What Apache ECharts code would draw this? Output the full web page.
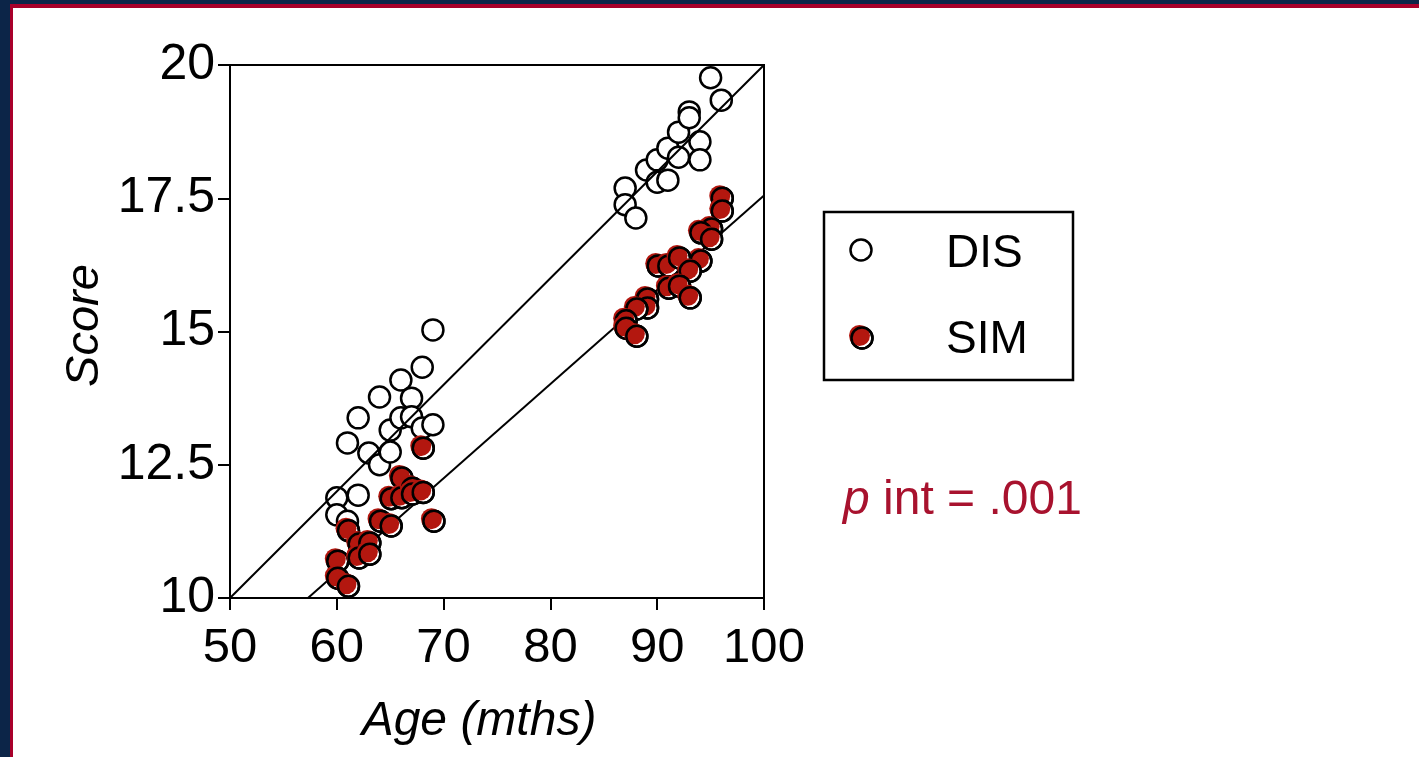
<!DOCTYPE html>
<html><head><meta charset="utf-8">
<script src="https://cdn.jsdelivr.net/npm/echarts@6/dist/echarts.min.js"></script>
<style>html,body{margin:0;padding:0;background:#fff;}#c{width:1419px;height:757px;}</style>
</head><body><div id="c"></div>
<script>
// ---- data ----
const xTickValues = [50, 60, 70, 80, 90, 100];
const yTickLabels = ['10', '12.5', '15', '17.5', '20'];

const disAge   = [60, 60, 61, 61, 62, 62, 63, 64, 64, 65, 65, 66, 66, 67, 67, 68, 68, 69, 69,
                  87, 87, 88, 89, 90, 90, 91, 91, 92, 92, 93, 93, 94, 94, 95, 96];
const disScore = [11.88, 11.56, 11.44, 12.91, 13.38, 11.93, 12.72, 13.77, 12.50, 12.74, 13.15, 13.38, 14.09, 13.75, 13.40, 14.33, 13.19, 13.25, 15.03,
                  17.69, 17.38, 17.13, 18.03, 18.22, 17.80, 18.44, 17.84, 18.74, 18.27, 19.12, 19.01, 18.56, 18.22, 19.76, 19.34];

const simAge   = [60, 60, 61, 61, 62, 62, 63, 63, 64, 65, 65, 66, 66, 67, 67, 68, 68, 69,
                  96, 96, 95, 94, 95, 94, 90, 91, 92, 93, 91, 92, 93, 89, 89, 88, 87, 87, 88];
const simScore = [10.71, 10.39, 10.24, 11.28, 11.03, 10.77, 11.05, 10.84, 11.46, 11.37, 11.88, 12.27, 11.90, 12.08, 11.97, 12.00, 12.83, 11.46,
                  17.52, 17.28, 16.94, 16.87, 16.75, 16.34, 16.25, 16.25, 16.40, 16.15, 15.83, 15.87, 15.65, 15.63, 15.46, 15.44, 15.22, 15.08, 14.93];

const disFitAge = [50, 100];
const disFitScore = [10, 20];
const simFitAge = [57.3, 100];
const simFitScore = [10, 17.55];

const seriesNames = ['DIS', 'SIM'];
const pText = '.001';

// ---- styles ----
const RED = '#b3170f';
const FONT = '"Liberation Sans", Arial, sans-serif';
const R = 10.5;

const zip = (a, b) => a.map((v, i) => [v, b[i]]);

function disItem(params, api) {
  const p = api.coord([api.value(0), api.value(1)]);
  return { type: 'circle', shape: { cx: p[0], cy: p[1], r: R },
           style: { fill: '#fff', stroke: '#000', lineWidth: 2.5 } };
}
function simItem(params, api) {
  const p = api.coord([api.value(0), api.value(1)]);
  return { type: 'group', children: [
    { type: 'circle', shape: { cx: p[0] + 1, cy: p[1] + 1, r: R }, style: { fill: '#fff', stroke: '#000', lineWidth: 2.5 } },
    { type: 'circle', shape: { cx: p[0] - 1.5, cy: p[1] - 1.5, r: R }, style: { fill: RED } },
    { type: 'circle', shape: { cx: p[0] + 1, cy: p[1] + 1, r: R }, style: { fill: 'none', stroke: '#000', lineWidth: 2.5 } }
  ]};
}

const chart = echarts.init(document.getElementById('c'), null, { renderer: 'canvas' });
chart.setOption({
  backgroundColor: '#fff',
  animation: false,
  grid: { left: 230, top: 65, width: 534, height: 533, show: true, borderColor: '#000', borderWidth: 2, backgroundColor: 'transparent' },
  xAxis: {
    type: 'value', min: xTickValues[0], max: xTickValues[xTickValues.length - 1], interval: 10,
    name: 'Age (mths)', nameLocation: 'middle', nameGap: 100,
    nameTextStyle: { fontFamily: FONT, fontSize: 48, fontStyle: 'italic', color: '#000', padding: [0, 36, 0, 0] },
    axisLine: { lineStyle: { color: '#000', width: 2 } },
    axisTick: { show: true, length: 12, lineStyle: { color: '#000', width: 2 } },
    axisLabel: { fontFamily: FONT, fontSize: 49, color: '#000', margin: 26 },
    splitLine: { show: false }
  },
  yAxis: {
    type: 'value', min: 10, max: 20, interval: 2.5,
    name: 'Score', nameLocation: 'middle', nameGap: 122, nameRotate: 90,
    nameTextStyle: { fontFamily: FONT, fontSize: 47, fontStyle: 'italic', color: '#000', padding: [0, 0, 0, 12] },
    axisLine: { lineStyle: { color: '#000', width: 2 } },
    axisTick: { show: true, length: 12, lineStyle: { color: '#000', width: 2 } },
    axisLabel: { fontFamily: FONT, fontSize: 50, color: '#000', margin: 15,
                 formatter: (v) => yTickLabels[Math.round((v - 10) / 2.5)] },
    splitLine: { show: false }
  },
  series: [
    { name: seriesNames[0], type: 'custom', z: 2, renderItem: disItem, data: zip(disAge, disScore), encode: { x: 0, y: 1 }, clip: false },
    { type: 'line', z: 3, symbol: 'none', data: zip(disFitAge, disFitScore), lineStyle: { color: '#000', width: 2 }, silent: true },
    { type: 'line', z: 3, symbol: 'none', data: zip(simFitAge, simFitScore), lineStyle: { color: '#000', width: 2 }, silent: true },
    { name: seriesNames[1], type: 'custom', z: 4, renderItem: simItem, data: zip(simAge, simScore), encode: { x: 0, y: 1 }, clip: false }
  ],
  graphic: [
    // frame
    { type: 'rect', z: 100, shape: { x: 0, y: 0, width: 1419, height: 4 }, style: { fill: '#0c2548' } },
    { type: 'rect', z: 100, shape: { x: 0, y: 0, width: 10, height: 757 }, style: { fill: '#0c2548' } },
    { type: 'rect', z: 100, shape: { x: 10, y: 4, width: 1409, height: 4 }, style: { fill: '#a8002a' } },
    { type: 'rect', z: 100, shape: { x: 10, y: 4, width: 3, height: 753 }, style: { fill: '#a8002a' } },
    // legend box
    { type: 'rect', z: 50, shape: { x: 824, y: 212, width: 249, height: 168 }, style: { fill: '#fff', stroke: '#000', lineWidth: 2.5 } },
    { type: 'circle', z: 51, shape: { cx: 861, cy: 250, r: R }, style: { fill: '#fff', stroke: '#000', lineWidth: 2.5 } },
    { type: 'circle', z: 51, shape: { cx: 862, cy: 338, r: R }, style: { fill: '#fff', stroke: '#000', lineWidth: 2.5 } },
    { type: 'circle', z: 52, shape: { cx: 859.5, cy: 335.5, r: R }, style: { fill: RED } },
    { type: 'circle', z: 53, shape: { cx: 862, cy: 338, r: R }, style: { fill: 'none', stroke: '#000', lineWidth: 2.5 } },
    { type: 'text', z: 53, x: 946, y: 254, style: { text: seriesNames[0], font: '46px ' + FONT, fill: '#000', verticalAlign: 'middle' } },
    { type: 'text', z: 53, x: 946, y: 340, style: { text: seriesNames[1], font: '46px ' + FONT, fill: '#000', verticalAlign: 'middle' } },
    // p interaction
    { type: 'text', z: 53, x: 843, y: 501, style: {
        text: '{i|p} int = ' + pText, verticalAlign: 'middle', fill: '#a8122e', font: '48px ' + FONT,
        rich: { i: { fontStyle: 'italic', fontFamily: FONT, fontSize: 48, fill: '#a8122e' } } } }
  ]
});
</script></body></html>
